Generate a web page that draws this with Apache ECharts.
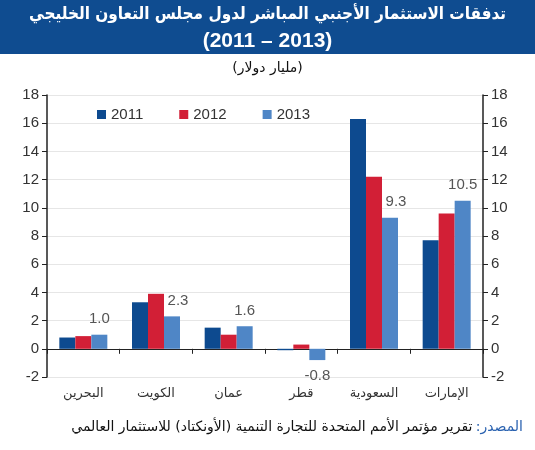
<!DOCTYPE html>
<html><head><meta charset="utf-8">
<script src="https://cdn.jsdelivr.net/npm/echarts@6/dist/echarts.min.js"></script>
<style>html,body{margin:0;padding:0;background:#fff}#c{width:535px;height:450px}</style>
</head><body><div id="c"></div>
<script>
const categories = ['البحرين','الكويت','عمان','قطر','السعودية','الإمارات'];
const years = ['2011','2012','2013'];
const v2011 = [0.8, 3.3, 1.5, -0.1, 16.3, 7.7];
const v2012 = [0.9, 3.9, 1.0, 0.3, 12.2, 9.6];
const v2013 = [1.0, 2.3, 1.6, -0.8, 9.3, 10.5];
const yTicks = [-2,0,2,4,6,8,10,12,14,16,18];
const colors = ['#0d4a8f','#d21f36','#4f86c6'];
const FONT = '"Liberation Sans","DejaVu Sans",sans-serif';

const chart = echarts.init(document.getElementById('c'));
const yAxisBase = {
  type:'value', min:yTicks[0], max:yTicks[yTicks.length-1], interval:2,
  axisLine:{show:true, lineStyle:{color:'#222', width:1.5}},
  axisTick:{show:true, length:5, lineStyle:{color:'#222'}},
  axisLabel:{color:'#333', fontSize:15, fontFamily:FONT, margin:8},
  splitLine:{show:true, lineStyle:{color:'#e6e6e6'}}
};
// label placement: below for negatives, nudged right when the neighbouring 2012 bar is taller
const d2013 = v2013.map((v,i)=>{
  if (v < 0) return {value:v, label:{position:'bottom'}};
  if (v2012[i] > v + 0.5) return {value:v, label:{offset:[6,0]}};
  return v;
});
chart.setOption({
  animation:false,
  textStyle:{fontFamily:FONT},
  grid:{left:47, right:52, top:95, bottom:73},
  legend:{
    data:years, top:102, left:92, itemWidth:9, itemHeight:9, itemGap:36,
    icon:'rect', textStyle:{fontSize:15, color:'#333', fontFamily:FONT}
  },
  xAxis:[
    {type:'category', data:categories, position:'bottom',
     axisLine:{show:false}, axisTick:{show:false},
     axisLabel:{color:'#333', fontSize:13, fontFamily:FONT, margin:10}},
    {type:'category', data:categories, position:'bottom',
     axisLine:{show:true, onZero:true, lineStyle:{color:'#222', width:1.2}},
     axisTick:{show:true, length:5, inside:false, lineStyle:{color:'#222'}},
     axisLabel:{show:false}}
  ],
  yAxis:[
    Object.assign({}, yAxisBase, {position:'left'}),
    Object.assign({}, yAxisBase, {position:'right', splitLine:{show:false}})
  ],
  series:[
    {name:years[0], type:'bar', data:v2011, barWidth:16, barGap:'0%', itemStyle:{color:colors[0]}},
    {name:years[1], type:'bar', data:v2012, barWidth:16, barGap:'0%', itemStyle:{color:colors[1]}},
    {name:years[2], type:'bar', barWidth:16, barGap:'0%', itemStyle:{color:colors[2]},
     data:d2013,
     label:{show:true, fontSize:15, color:'#555', fontFamily:FONT,
       formatter:p=>p.value.toFixed(1),
       position:'top', distance:8}}
  ],
  graphic:[
    {type:'rect', left:0, top:0, shape:{width:535, height:54}, style:{fill:'#0f4c90'}, z:0},
    {type:'text', left:'center', top:6, z:2,
     style:{text:'تدفقات الاستثمار الأجنبي المباشر لدول مجلس التعاون الخليجي', fill:'#fff', font:'bold 17px "DejaVu Sans Condensed","DejaVu Sans",sans-serif'}},
    {type:'text', left:'center', top:31, z:2, style:{text:'(2011 – 2013)', fill:'#fff', font:'bold 21px "Liberation Sans",sans-serif'}},
    {type:'text', left:'center', top:61, style:{text:'(مليار دولار)', fill:'#111', font:'14px "DejaVu Sans",sans-serif'}},
    {type:'text', right:12, top:420, style:{
      text:'{a|تقرير مؤتمر الأمم المتحدة للتجارة التنمية (الأونكتاد) للاستثمار العالمي} {b|:}{b|المصدر}',
      rich:{b:{fill:'#2a62b0', font:'14px "DejaVu Sans",sans-serif'}, a:{fill:'#111', font:'14px "DejaVu Sans",sans-serif'}}
    }}
  ]
});
</script></body></html>
